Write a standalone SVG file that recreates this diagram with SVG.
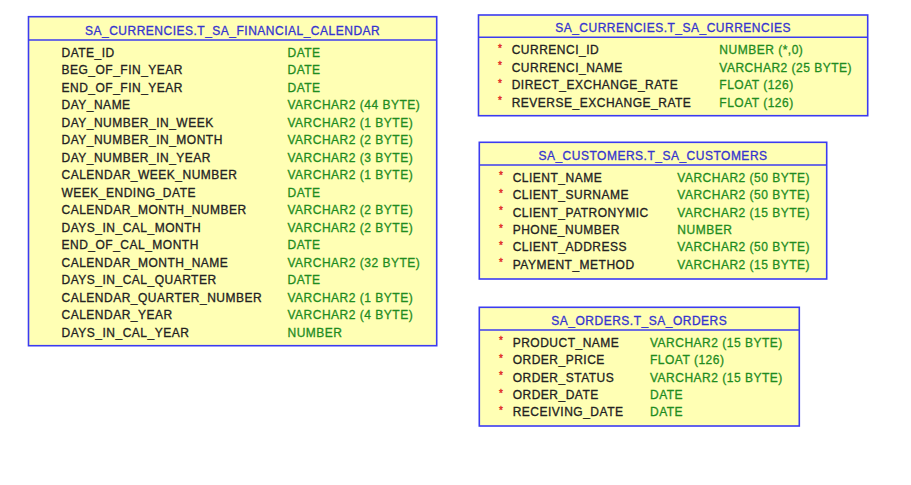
<svg xmlns="http://www.w3.org/2000/svg" width="911" height="485" viewBox="0 0 911 485">
<style>
.box{fill:#ffffb4;stroke:#3c3cf0;stroke-width:1.6}
.sep{stroke:#3c3cf0;stroke-width:1.4}
text{font-family:"Liberation Sans",Arial,sans-serif;font-size:12px;letter-spacing:0.5px;stroke-width:0.3px}
.t{fill:#3434d0;stroke:#3434d0;text-anchor:middle}
.n{fill:#222222;stroke:#222222}
.ty{fill:#1f8c1f;stroke:#1f8c1f}
.s{fill:#e02020;stroke:#e02020;font-size:10px;letter-spacing:0}
</style>
<rect width="911" height="485" fill="#ffffff"/>
<g id="financial_calendar">
<rect class="box" x="28.5" y="16.7" width="408.2" height="329"/>
<line class="sep" x1="28.5" y1="40" x2="436.7" y2="40"/>
<text class="t" x="232.6" y="35">SA_CURRENCIES.T_SA_FINANCIAL_CALENDAR</text>
<text class="n" x="61.5" y="56.5">DATE_ID</text><text class="ty" x="287.5" y="56.5">DATE</text>
<text class="n" x="61.5" y="74">BEG_OF_FIN_YEAR</text><text class="ty" x="287.5" y="74">DATE</text>
<text class="n" x="61.5" y="91.5">END_OF_FIN_YEAR</text><text class="ty" x="287.5" y="91.5">DATE</text>
<text class="n" x="61.5" y="109">DAY_NAME</text><text class="ty" x="287.5" y="109">VARCHAR2 (44 BYTE)</text>
<text class="n" x="61.5" y="126.5">DAY_NUMBER_IN_WEEK</text><text class="ty" x="287.5" y="126.5">VARCHAR2 (1 BYTE)</text>
<text class="n" x="61.5" y="144">DAY_NUMBER_IN_MONTH</text><text class="ty" x="287.5" y="144">VARCHAR2 (2 BYTE)</text>
<text class="n" x="61.5" y="161.5">DAY_NUMBER_IN_YEAR</text><text class="ty" x="287.5" y="161.5">VARCHAR2 (3 BYTE)</text>
<text class="n" x="61.5" y="179">CALENDAR_WEEK_NUMBER</text><text class="ty" x="287.5" y="179">VARCHAR2 (1 BYTE)</text>
<text class="n" x="61.5" y="196.5">WEEK_ENDING_DATE</text><text class="ty" x="287.5" y="196.5">DATE</text>
<text class="n" x="61.5" y="214">CALENDAR_MONTH_NUMBER</text><text class="ty" x="287.5" y="214">VARCHAR2 (2 BYTE)</text>
<text class="n" x="61.5" y="231.5">DAYS_IN_CAL_MONTH</text><text class="ty" x="287.5" y="231.5">VARCHAR2 (2 BYTE)</text>
<text class="n" x="61.5" y="249">END_OF_CAL_MONTH</text><text class="ty" x="287.5" y="249">DATE</text>
<text class="n" x="61.5" y="266.5">CALENDAR_MONTH_NAME</text><text class="ty" x="287.5" y="266.5">VARCHAR2 (32 BYTE)</text>
<text class="n" x="61.5" y="284">DAYS_IN_CAL_QUARTER</text><text class="ty" x="287.5" y="284">DATE</text>
<text class="n" x="61.5" y="301.5">CALENDAR_QUARTER_NUMBER</text><text class="ty" x="287.5" y="301.5">VARCHAR2 (1 BYTE)</text>
<text class="n" x="61.5" y="319">CALENDAR_YEAR</text><text class="ty" x="287.5" y="319">VARCHAR2 (4 BYTE)</text>
<text class="n" x="61.5" y="336.5">DAYS_IN_CAL_YEAR</text><text class="ty" x="287.5" y="336.5">NUMBER</text>
</g>
<g id="currencies">
<rect class="box" x="478.5" y="15" width="389.2" height="100.7"/>
<line class="sep" x1="478.5" y1="37.3" x2="867.7" y2="37.3"/>
<text class="t" x="673.1" y="31.7">SA_CURRENCIES.T_SA_CURRENCIES</text>
<text class="s" x="498" y="52">*</text><text class="n" x="511.7" y="54.3">CURRENCI_ID</text><text class="ty" x="719.3" y="54.3">NUMBER (*,0)</text>
<text class="s" x="498" y="69.4">*</text><text class="n" x="511.7" y="71.7">CURRENCI_NAME</text><text class="ty" x="719.3" y="71.7">VARCHAR2 (25 BYTE)</text>
<text class="s" x="498" y="86.8">*</text><text class="n" x="511.7" y="89.1">DIRECT_EXCHANGE_RATE</text><text class="ty" x="719.3" y="89.1">FLOAT (126)</text>
<text class="s" x="498" y="104.2">*</text><text class="n" x="511.7" y="106.5">REVERSE_EXCHANGE_RATE</text><text class="ty" x="719.3" y="106.5">FLOAT (126)</text>
</g>
<g id="customers">
<rect class="box" x="479.3" y="142.3" width="347.4" height="136.7"/>
<line class="sep" x1="479.3" y1="165" x2="826.7" y2="165"/>
<text class="t" x="653" y="160">SA_CUSTOMERS.T_SA_CUSTOMERS</text>
<text class="s" x="499" y="179.4">*</text><text class="n" x="512.7" y="181.7">CLIENT_NAME</text><text class="ty" x="677.3" y="181.7">VARCHAR2 (50 BYTE)</text>
<text class="s" x="499" y="196.8">*</text><text class="n" x="512.7" y="199.1">CLIENT_SURNAME</text><text class="ty" x="677.3" y="199.1">VARCHAR2 (50 BYTE)</text>
<text class="s" x="499" y="214.2">*</text><text class="n" x="512.7" y="216.5">CLIENT_PATRONYMIC</text><text class="ty" x="677.3" y="216.5">VARCHAR2 (15 BYTE)</text>
<text class="s" x="499" y="231.6">*</text><text class="n" x="512.7" y="233.9">PHONE_NUMBER</text><text class="ty" x="677.3" y="233.9">NUMBER</text>
<text class="s" x="499" y="249">*</text><text class="n" x="512.7" y="251.3">CLIENT_ADDRESS</text><text class="ty" x="677.3" y="251.3">VARCHAR2 (50 BYTE)</text>
<text class="s" x="499" y="266.4">*</text><text class="n" x="512.7" y="268.7">PAYMENT_METHOD</text><text class="ty" x="677.3" y="268.7">VARCHAR2 (15 BYTE)</text>
</g>
<g id="orders">
<rect class="box" x="479.3" y="307.3" width="320" height="118.7"/>
<line class="sep" x1="479.3" y1="330" x2="799.3" y2="330"/>
<text class="t" x="639.3" y="325">SA_ORDERS.T_SA_ORDERS</text>
<text class="s" x="499" y="344.4">*</text><text class="n" x="512.7" y="346.7">PRODUCT_NAME</text><text class="ty" x="650" y="346.7">VARCHAR2 (15 BYTE)</text>
<text class="s" x="499" y="361.8">*</text><text class="n" x="512.7" y="364.1">ORDER_PRICE</text><text class="ty" x="650" y="364.1">FLOAT (126)</text>
<text class="s" x="499" y="379.2">*</text><text class="n" x="512.7" y="381.5">ORDER_STATUS</text><text class="ty" x="650" y="381.5">VARCHAR2 (15 BYTE)</text>
<text class="s" x="499" y="396.6">*</text><text class="n" x="512.7" y="398.9">ORDER_DATE</text><text class="ty" x="650" y="398.9">DATE</text>
<text class="s" x="499" y="414">*</text><text class="n" x="512.7" y="416.3">RECEIVING_DATE</text><text class="ty" x="650" y="416.3">DATE</text>
</g>
<g id="connectors"></g>
</svg>
